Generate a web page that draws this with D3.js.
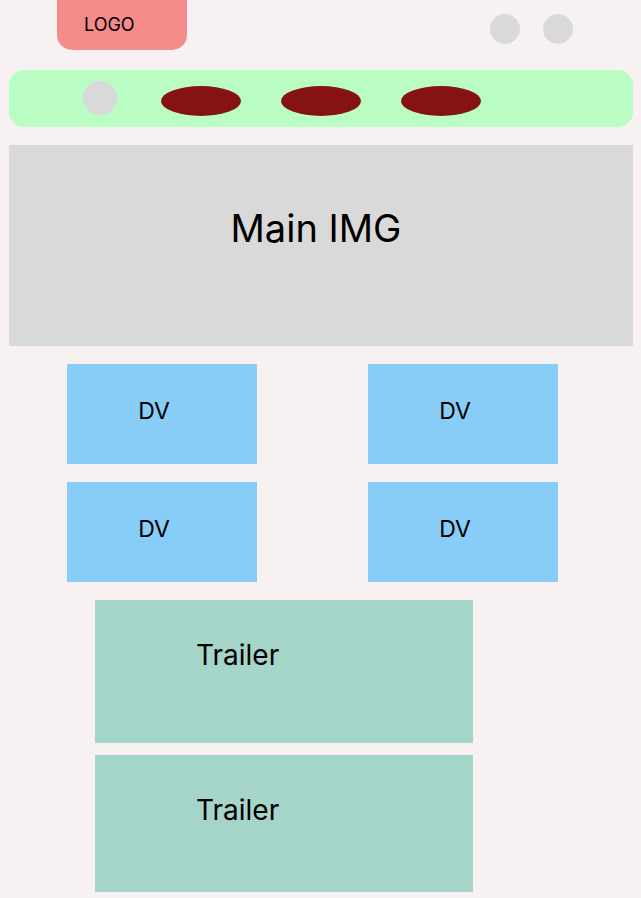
<!DOCTYPE html>
<html>
<head>
<meta charset="utf-8">
<script src="https://cdn.jsdelivr.net/npm/d3@7"></script>
<style>
  body { margin: 0; background: #f7f1f1; }
  text { font-family: Inter, "Noto Sans", sans-serif; fill: #000; }
</style>
</head>
<body>
<div id="page"></div>
<script>
// wireframe contents
const logoLabel = "LOGO";
const headerIcons = ["icon1", "icon2"];
const navItems = ["home", "menu1", "menu2", "menu3"];
const heroLabel = "Main IMG";
const dvRows = [["DV", "DV"], ["DV", "DV"]];
const trailers = ["Trailer", "Trailer"];

const W = 641, H = 898;

const svg = d3.select("#page").append("svg")
  .attr("width", W).attr("height", H);

svg.append("rect").attr("width", W).attr("height", H).attr("fill", "#f7f1f1");

// logo
svg.append("rect")
  .attr("x", 57).attr("y", -20).attr("width", 130).attr("height", 70)
  .attr("rx", 15).attr("fill", "#f48a8a");
svg.append("text")
  .attr("x", 84).attr("y", 26).attr("dominant-baseline", "middle")
  .style("font-size", "18px").text(logoLabel);

// header icons
const iconX = d3.scalePoint().domain(headerIcons).range([505, 558]);
svg.selectAll(".hicon").data(headerIcons).enter().append("circle")
  .attr("cx", d => iconX(d)).attr("cy", 29).attr("r", 15)
  .attr("fill", "#d9d9d9");

// nav bar
svg.append("rect")
  .attr("x", 9).attr("y", 70).attr("width", 624).attr("height", 57)
  .attr("rx", 15).attr("fill", "#b9fdc4");
const navX = d3.scalePoint().domain(navItems).range([100, 441]);
svg.append("circle")
  .attr("cx", 100).attr("cy", 98).attr("r", 17).attr("fill", "#d9d9d9");
svg.selectAll(".nav").data(navItems.slice(1)).enter().append("ellipse")
  .attr("cx", (d, i) => 201 + i * 120).attr("cy", 101)
  .attr("rx", 40).attr("ry", 15).attr("fill", "#861313");

// hero
svg.append("rect")
  .attr("x", 9).attr("y", 145).attr("width", 624).attr("height", 201)
  .attr("fill", "#d9d9d9");
svg.append("text")
  .attr("x", 316).attr("y", 232).attr("text-anchor", "middle")
  .attr("dominant-baseline", "middle")
  .style("font-size", "38px").text(heroLabel);

// DV grid
const colX = d3.scaleOrdinal().domain([0, 1]).range([67, 368]);
const rowY = d3.scaleOrdinal().domain([0, 1]).range([364, 482]);
dvRows.forEach((row, r) => {
  const g = svg.append("g");
  row.forEach((label, c) => {
    g.append("rect")
      .attr("x", colX(c)).attr("y", rowY(r)).attr("width", 190).attr("height", 100)
      .attr("fill", "#87cdf7");
    g.append("text")
      .attr("x", colX(c) + 87).attr("y", rowY(r) + 49)
      .attr("text-anchor", "middle").attr("dominant-baseline", "middle")
      .style("font-size", "23px").text(label);
  });
});

// trailers
const trailerY = [600, 755], trailerH = [143, 137];
trailers.forEach((label, i) => {
  svg.append("rect")
    .attr("x", 95).attr("y", trailerY[i]).attr("width", 378).attr("height", trailerH[i])
    .attr("fill", "#a5d4c8");
  svg.append("text")
    .attr("x", 196).attr("y", trailerY[i] + 57).attr("dominant-baseline", "middle")
    .style("font-size", "28px").text(label);
});
</script>
</body>
</html>
